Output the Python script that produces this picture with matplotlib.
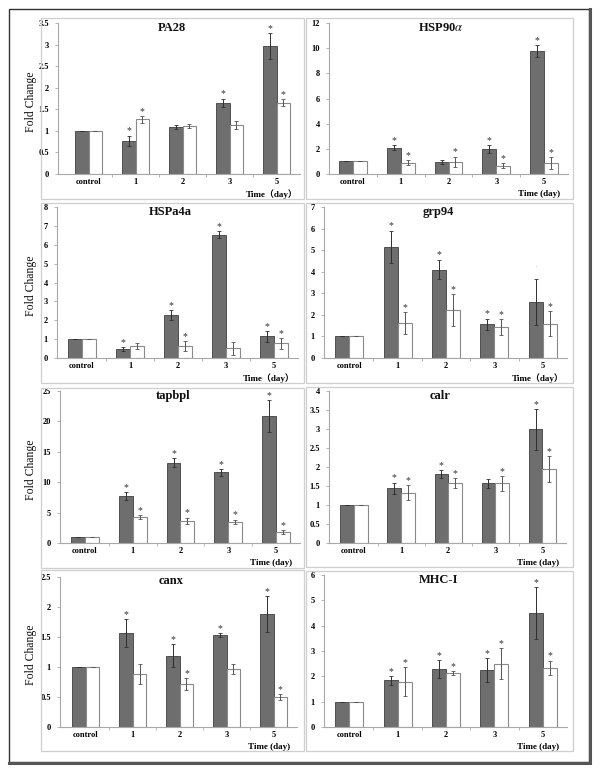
import numpy as np
import matplotlib
matplotlib.use('Agg')
from matplotlib import pyplot as plt
from matplotlib.patches import Rectangle
from matplotlib.lines import Line2D

plt.rcParams['font.family'] = ['Liberation Serif', 'Noto Sans CJK SC', 'DejaVu Sans']
plt.rcParams['mathtext.fontset'] = 'stix'

categories = ['control', '1', '2', '3', '5']
genes = ['PA28', 'HSP90$\\alpha$', 'HSPa4a', 'grp94', 'tapbpl', 'calr', 'canx', 'MHC-I']

pa28_dark = [1, 0.77, 1.09, 1.65, 2.96]
pa28_dark_err = [0, 0.12, 0.04, 0.1, 0.3]
pa28_white = [1, 1.27, 1.11, 1.14, 1.65]
pa28_white_err = [0, 0.08, 0.04, 0.09, 0.08]
pa28_dark_star = [0, 1, 0, 1, 1]
pa28_white_star = [0, 1, 0, 0, 1]

hsp90_dark = [1, 2.1, 0.98, 2.0, 9.76]
hsp90_dark_err = [0, 0.2, 0.15, 0.3, 0.5]
hsp90_white = [1, 0.88, 0.98, 0.66, 0.88]
hsp90_white_err = [0, 0.2, 0.4, 0.2, 0.45]
hsp90_dark_star = [0, 1, 0, 1, 1]
hsp90_white_star = [0, 1, 1, 1, 1]

hspa4a_dark = [1, 0.46, 2.27, 6.54, 1.15]
hspa4a_dark_err = [0, 0.1, 0.26, 0.18, 0.28]
hspa4a_white = [1, 0.64, 0.62, 0.51, 0.78]
hspa4a_white_err = [0, 0.15, 0.27, 0.33, 0.28]
hspa4a_dark_star = [0, 1, 1, 1, 1]
hspa4a_white_star = [0, 0, 1, 0, 1]

grp94_dark = [1, 5.15, 4.1, 1.57, 2.6]
grp94_dark_err = [0, 0.76, 0.46, 0.26, 1.08]
grp94_white = [1.02, 1.62, 2.23, 1.44, 1.58]
grp94_white_err = [0, 0.5, 0.73, 0.38, 0.58]
grp94_dark_star = [0, 1, 1, 1, 0]
grp94_white_star = [0, 1, 1, 1, 1]

tapbpl_dark = [1, 7.77, 13.24, 11.6, 20.9]
tapbpl_dark_err = [0, 0.65, 0.7, 0.5, 2.65]
tapbpl_white = [1, 4.27, 3.67, 3.45, 1.86]
tapbpl_white_err = [0, 0.3, 0.5, 0.4, 0.3]
tapbpl_dark_star = [0, 1, 1, 1, 1]
tapbpl_white_star = [0, 1, 1, 1, 1]

calr_dark = [1, 1.44, 1.81, 1.57, 2.99]
calr_dark_err = [0, 0.15, 0.1, 0.12, 0.53]
calr_white = [1, 1.32, 1.57, 1.57, 1.95]
calr_white_err = [0, 0.2, 0.13, 0.19, 0.34]
calr_dark_star = [0, 1, 1, 0, 1]
calr_white_star = [0, 1, 1, 1, 1]

canx_dark = [1, 1.57, 1.19, 1.53, 1.88]
canx_dark_err = [0, 0.23, 0.19, 0.03, 0.3]
canx_white = [1, 0.88, 0.71, 0.97, 0.5]
canx_white_err = [0, 0.17, 0.1, 0.08, 0.05]
canx_dark_star = [0, 1, 1, 1, 1]
canx_white_star = [0, 0, 1, 0, 1]

mhc_dark = [1, 1.84, 2.28, 2.24, 4.49]
mhc_dark_err = [0, 0.17, 0.36, 0.48, 1.02]
mhc_white = [1, 1.79, 2.14, 2.5, 2.34]
mhc_white_err = [0, 0.56, 0.08, 0.6, 0.28]
mhc_dark_star = [0, 1, 1, 1, 1]
mhc_white_star = [0, 1, 1, 1, 1]

y_max = [3.5, 12, 8, 7, 25, 4, 2.5, 6]
y_step = [0.5, 2, 1, 1, 5, 0.5, 0.5, 1]
time_labels = ['Time\uff08day\uff09', 'Time (day)', 'Time\uff08day\uff09', 'Time\uff08day\uff09',
               'Time (day)', 'Time (day)', 'Time (day)', 'Time (day)']

data = [
    (pa28_dark, pa28_dark_err, pa28_white, pa28_white_err, pa28_dark_star, pa28_white_star),
    (hsp90_dark, hsp90_dark_err, hsp90_white, hsp90_white_err, hsp90_dark_star, hsp90_white_star),
    (hspa4a_dark, hspa4a_dark_err, hspa4a_white, hspa4a_white_err, hspa4a_dark_star, hspa4a_white_star),
    (grp94_dark, grp94_dark_err, grp94_white, grp94_white_err, grp94_dark_star, grp94_white_star),
    (tapbpl_dark, tapbpl_dark_err, tapbpl_white, tapbpl_white_err, tapbpl_dark_star, tapbpl_white_star),
    (calr_dark, calr_dark_err, calr_white, calr_white_err, calr_dark_star, calr_white_star),
    (canx_dark, canx_dark_err, canx_white, canx_white_err, canx_dark_star, canx_white_star),
    (mhc_dark, mhc_dark_err, mhc_white, mhc_white_err, mhc_dark_star, mhc_white_star),
]

# layout in pixels: left, right, top, bottom of each plot area
W, H = 600, 772
axes_px = [(58, 300, 23, 174), (329, 568, 23, 174),
           (57, 298, 207, 358), (324, 567, 207, 358),
           (60, 300, 391, 543), (329, 566, 391, 543),
           (60, 297, 577, 727), (324, 567, 575, 727)]
x_left = [-0.65, -0.5, -0.52, -0.52, -0.52, -0.53, -0.55, -0.52]
# panel boxes: left, right, top, bottom
boxes_px = [(41, 304, 18, 199), (306, 573, 18, 199),
            (41, 304, 203, 383), (306, 573, 203, 383),
            (41, 304, 388, 568), (306, 573, 387, 567),
            (41, 304, 570, 751), (306, 573, 571, 751)]

fig = plt.figure(figsize=(6.0, 7.72), dpi=100)

def fx(px):
    return px / W

def fy(py):
    return 1 - py / H

# outer frame
fig.patches.append(Rectangle((fx(9), fy(762)), fx(580), 753 / H, transform=fig.transFigure,
                             fill=False, edgecolor='#333333', lw=1.0))
fig.lines.append(Line2D([fx(589.5), fx(589.5)], [fy(762), fy(9)], transform=fig.transFigure,
                        color='#555555', lw=2.2))
fig.lines.append(Line2D([fx(9), fx(589.5)], [fy(762.5), fy(762.5)], transform=fig.transFigure,
                        color='#555555', lw=2.2))

for (l, r, t, b) in boxes_px:
    fig.patches.append(Rectangle((fx(l), fy(b)), fx(r - l), (b - t) / H, transform=fig.transFigure,
                                 fill=False, edgecolor='#cfcfcf', lw=0.9))

x = np.arange(len(categories))
bw = 0.29
tick_font = dict(fontsize=6, fontweight='bold')

for i, gene in enumerate(genes):
    l, r, t, b = axes_px[i]
    ax = fig.add_axes([fx(l), fy(b), fx(r - l), (b - t) / H])
    dark, dark_err, white, white_err, dstar, wstar = data[i]

    ax.bar(x - bw / 2, dark, bw, color='#6e6e6e', edgecolor='#3f3f3f', lw=0.6, zorder=2)
    ax.bar(x + bw / 2, white, bw, color='white', edgecolor='#8a8a8a', lw=0.8, zorder=2)
    ax.errorbar(x - bw / 2, dark, yerr=dark_err, fmt='none', ecolor='#2e2e2e',
                elinewidth=0.7, capsize=1.2, capthick=0.6, zorder=3)
    ax.errorbar(x + bw / 2, white, yerr=white_err, fmt='none', ecolor='#555555',
                elinewidth=0.7, capsize=1.2, capthick=0.6, zorder=3)

    for j in range(len(categories)):
        if dstar[j]:
            ax.annotate('*', xy=(x[j] - bw / 2, dark[j] + dark_err[j]), xytext=(0, 1.5),
                        textcoords='offset points', ha='center', va='baseline',
                        fontsize=7, color='#333333')
        if wstar[j]:
            ax.annotate('*', xy=(x[j] + bw / 2, white[j] + white_err[j]), xytext=(0, 1.5),
                        textcoords='offset points', ha='center', va='baseline',
                        fontsize=7, color='#333333')

    ax.set_xlim(x_left[i], 4.5)
    ax.set_ylim(0, y_max[i])
    yt = np.arange(0, y_max[i] + y_step[i] / 2, y_step[i])
    ax.set_yticks(yt)
    ax.set_yticklabels(['%g' % v for v in yt], **tick_font)
    ax.set_xticks(x)
    ax.set_xticklabels(categories, **tick_font)
    ax.set_xticks(np.arange(0.5, 4.5, 1), minor=True)
    ax.tick_params(axis='x', which='major', length=0, pad=3)
    ax.tick_params(axis='x', which='minor', length=2.5, width=0.6, color='#aaaaaa')
    ax.tick_params(axis='y', length=2.5, width=0.6, color='#aaaaaa', pad=4)
    for s in ['top', 'right']:
        ax.spines[s].set_visible(False)
    for s in ['left', 'bottom']:
        ax.spines[s].set_color('#a8a8a8')
        ax.spines[s].set_linewidth(0.8)
    ax.patch.set_alpha(0)

    ax.text(0.47, 0.97, gene, transform=ax.transAxes, ha='center', va='center',
            fontsize=9, fontweight='bold', color='#111111')
    ax.annotate(time_labels[i], xy=(3.9, 0), xycoords=('data', 'axes fraction'),
                xytext=(0, -14.5), textcoords='offset points', ha='center', va='center',
                fontsize=6.5, fontweight='bold', annotation_clip=False)

    if i % 2 == 0:
        fig.text(fx(31), fy((t + b) / 2 + 3), 'Fold Change', rotation=90, ha='center', va='center',
                 fontsize=8.5, color='#111111')

# faint mark above grp94 day 5
fig.axes[3].text(3.85, 4.2, '\u00b7', ha='center', va='center', fontsize=6, color='#bbbbbb')

fig.savefig('out.png', dpi=100)
